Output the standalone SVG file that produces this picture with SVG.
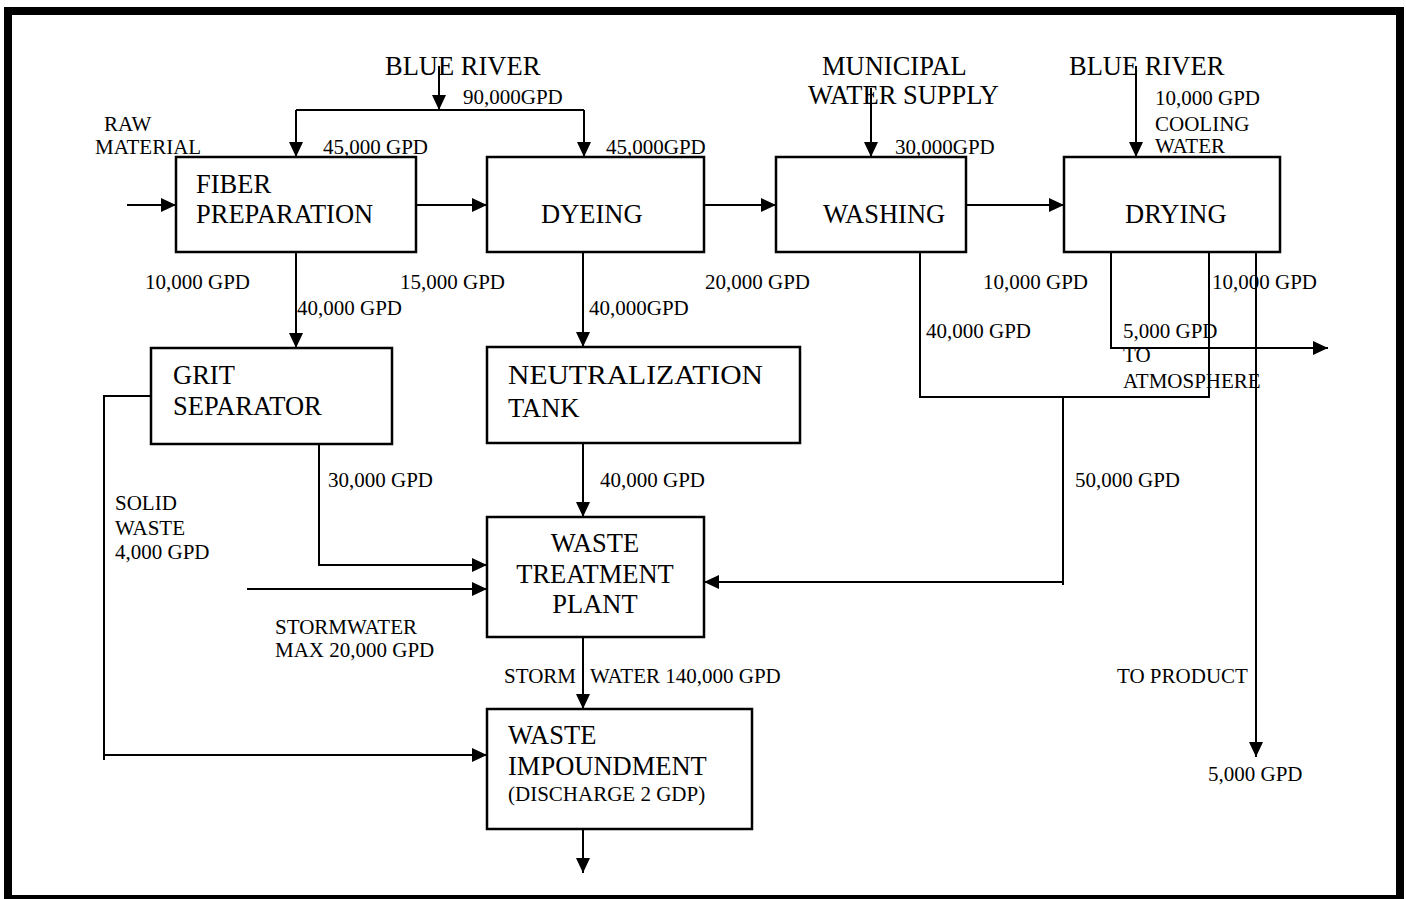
<svg xmlns="http://www.w3.org/2000/svg" width="1406" height="899" viewBox="0 0 1406 899">
<style>
.box{fill:#fff;stroke:#000;stroke-width:2.5}
.ln{fill:none;stroke:#000;stroke-width:2}
.big{font-family:"Liberation Serif","Times New Roman",serif;font-size:26.5px;fill:#000}
.sm{font-family:"Liberation Serif","Times New Roman",serif;font-size:21px;fill:#000}
</style>
<defs>
<marker id="ah" markerUnits="userSpaceOnUse" markerWidth="16" markerHeight="14" refX="15" refY="7" orient="auto">
<path d="M0,0 L15,7 L0,14 z" fill="#000"/>
</marker>
</defs>
<rect x="0" y="0" width="1406" height="899" fill="#fff"/>
<rect x="8" y="11" width="1392" height="888" fill="none" stroke="#000" stroke-width="8"/>

<g id="connectors">
<path class="ln" d="M439,66 V110" marker-end="url(#ah)"/>
<path class="ln" d="M296,110 H584"/>
<path class="ln" d="M296,110 V157" marker-end="url(#ah)"/>
<path class="ln" d="M584,110 V157" marker-end="url(#ah)"/>
<path class="ln" d="M127,205 H176" marker-end="url(#ah)"/>
<path class="ln" d="M416,205 H487" marker-end="url(#ah)"/>
<path class="ln" d="M702,205 H776" marker-end="url(#ah)"/>
<path class="ln" d="M966,205 H1064" marker-end="url(#ah)"/>
<path class="ln" d="M871,88 V157" marker-end="url(#ah)"/>
<path class="ln" d="M1136,66 V157" marker-end="url(#ah)"/>
<path class="ln" d="M296,252 V348" marker-end="url(#ah)"/>
<path class="ln" d="M583,252 V347" marker-end="url(#ah)"/>
<path class="ln" d="M151,396 H104 V760"/>
<path class="ln" d="M104,755 H487" marker-end="url(#ah)"/>
<path class="ln" d="M319,444 V565 H487" marker-end="url(#ah)"/>
<path class="ln" d="M247,589 H487" marker-end="url(#ah)"/>
<path class="ln" d="M583,443 V517" marker-end="url(#ah)"/>
<path class="ln" d="M583,637 V709" marker-end="url(#ah)"/>
<path class="ln" d="M583,826 V873" marker-end="url(#ah)"/>
<path class="ln" d="M920,252 V397 H1209 V252"/>
<path class="ln" d="M1063,397 V585"/>
<path class="ln" d="M1063,582 H704" marker-end="url(#ah)"/>
<path class="ln" d="M1111,252 V348 H1328" marker-end="url(#ah)"/>
<path class="ln" d="M1256,252 V757" marker-end="url(#ah)"/>
</g>

<g id="fiber">
<rect class="box" x="176" y="157" width="240" height="95"/>
<text class="big" x="196" y="193">FIBER</text>
<text class="big" x="196" y="223">PREPARATION</text>
</g>
<g id="dyeing">
<rect class="box" x="487" y="157" width="217" height="95"/>
<text class="big" x="541" y="223">DYEING</text>
</g>
<g id="washing">
<rect class="box" x="776" y="157" width="190" height="95"/>
<text class="big" x="823" y="223">WASHING</text>
</g>
<g id="drying">
<rect class="box" x="1064" y="157" width="216" height="95"/>
<text class="big" x="1125" y="223">DRYING</text>
</g>
<g id="grit">
<rect class="box" x="151" y="348" width="241" height="96"/>
<text class="big" x="173" y="384">GRIT</text>
<text class="big" x="173" y="415">SEPARATOR</text>
</g>
<g id="neutralization">
<rect class="box" x="487" y="347" width="313" height="96"/>
<text class="big" x="508" y="384" textLength="255" lengthAdjust="spacingAndGlyphs">NEUTRALIZATION</text>
<text class="big" x="508" y="417">TANK</text>
</g>
<g id="treatment">
<rect class="box" x="487" y="517" width="217" height="120"/>
<text class="big" x="595" y="552" text-anchor="middle">WASTE</text>
<text class="big" x="595" y="583" text-anchor="middle">TREATMENT</text>
<text class="big" x="595" y="613" text-anchor="middle">PLANT</text>
</g>
<g id="impoundment">
<rect class="box" x="487" y="709" width="265" height="120"/>
<text class="big" x="508" y="744">WASTE</text>
<text class="big" x="508" y="775">IMPOUNDMENT</text>
<text class="sm" x="508" y="801">(DISCHARGE 2 GDP)</text>
</g>

<g id="labels">
<text class="big" x="385" y="75">BLUE RIVER</text>
<text class="sm" x="463" y="104">90,000GPD</text>
<text class="sm" x="104" y="131">RAW</text>
<text class="sm" x="95" y="154">MATERIAL</text>
<text class="sm" x="323" y="154">45,000 GPD</text>
<text class="sm" x="606" y="154">45,000GPD</text>
<text class="big" x="822" y="75">MUNICIPAL</text>
<text class="big" x="808" y="104">WATER SUPPLY</text>
<text class="sm" x="895" y="154">30,000GPD</text>
<text class="big" x="1069" y="75">BLUE RIVER</text>
<text class="sm" x="1155" y="105">10,000 GPD</text>
<text class="sm" x="1155" y="131">COOLING</text>
<text class="sm" x="1155" y="153">WATER</text>
<text class="sm" x="145" y="289">10,000 GPD</text>
<text class="sm" x="297" y="315">40,000 GPD</text>
<text class="sm" x="400" y="289">15,000 GPD</text>
<text class="sm" x="589" y="315">40,000GPD</text>
<text class="sm" x="705" y="289">20,000 GPD</text>
<text class="sm" x="983" y="289">10,000 GPD</text>
<text class="sm" x="1212" y="289">10,000 GPD</text>
<text class="sm" x="926" y="338">40,000 GPD</text>
<text class="sm" x="1123" y="338">5,000 GPD</text>
<text class="sm" x="1123" y="362">TO</text>
<text class="sm" x="1123" y="388">ATMOSPHERE</text>
<text class="sm" x="328" y="487">30,000 GPD</text>
<text class="sm" x="600" y="487">40,000 GPD</text>
<text class="sm" x="1075" y="487">50,000 GPD</text>
<text class="sm" x="115" y="510">SOLID</text>
<text class="sm" x="115" y="535">WASTE</text>
<text class="sm" x="115" y="559">4,000 GPD</text>
<text class="sm" x="275" y="634">STORMWATER</text>
<text class="sm" x="275" y="657">MAX 20,000 GPD</text>
<text class="sm" y="683"><tspan x="504">STORM</tspan><tspan x="590">WATER 140,000 GPD</tspan></text>
<text class="sm" x="1117" y="683">TO PRODUCT</text>
<text class="sm" x="1208" y="781">5,000 GPD</text>
</g>
</svg>
